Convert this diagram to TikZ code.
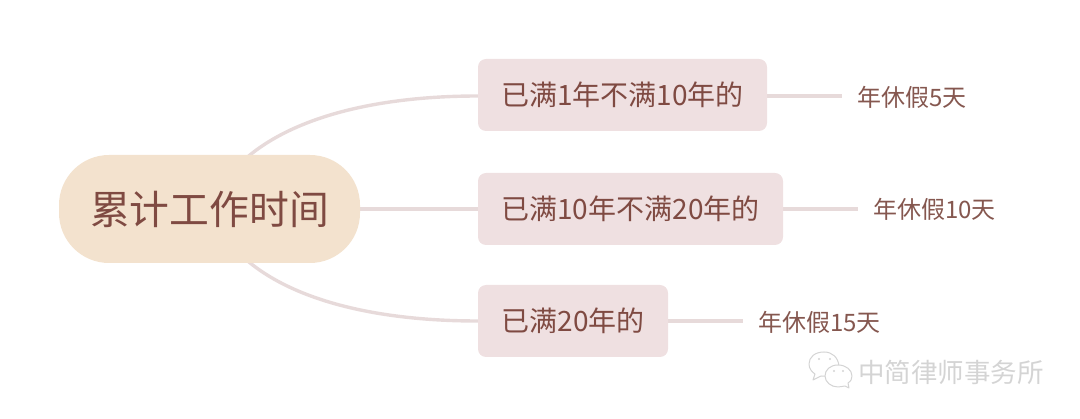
\documentclass[tikz,border=0pt]{standalone}
\usepackage{fontspec}
\newfontfamily\cjk{Noto Sans CJK SC}
\usetikzlibrary{backgrounds}
\definecolor{rootfill}{HTML}{F3E2CE}
\definecolor{boxfill}{HTML}{EFE0E1}
\definecolor{linkcol}{HTML}{E7DADA}
\definecolor{inkcol}{HTML}{7F4A42}
\definecolor{leafcol}{HTML}{85574F}
\definecolor{markcol}{HTML}{D4D4D4}
\tikzset{
  rootbox/.style={fill=rootfill,rounded corners=50pt,minimum width=301pt,minimum height=108pt,inner sep=0pt,text=inkcol,font=\cjk\fontsize{39.8}{44}\selectfont},
  branchbox/.style={fill=boxfill,rounded corners=8pt,minimum height=72pt,inner sep=0pt,text=inkcol,font=\cjk\fontsize{28}{32}\selectfont},
  leaftext/.style={inner sep=0pt,text=leafcol,font=\cjk\fontsize{24}{28}\selectfont},
  link/.style={draw=linkcol,line width=3.4pt},
  markline/.style={draw=markcol,line width=1pt,fill=white,line join=round},
}
\begin{document}
\begin{tikzpicture}[x=1pt,y=-1pt]
\useasboundingbox (0,0) rectangle (1080,419);
\node[rootbox] (root) at (209.5,209) {累计工作时间};
\node[branchbox,minimum width=289pt] (b1) at (622.5,95) {已满1年不满10年的};
\node[branchbox,minimum width=305pt] (b2) at (630.5,209) {已满10年不满20年的};
\node[branchbox,minimum width=190pt] (b3) at (573,321) {已满20年的};
\node[leaftext,anchor=west] (l1) at (857,97) {年休假5天};
\node[leaftext,anchor=west] (l2) at (873,209) {年休假10天};
\node[leaftext,anchor=west] (l3) at (758,322) {年休假15天};
\coordinate (e1) at (842,96);
\coordinate (e2) at (858,209);
\coordinate (e3) at (743,321);
\begin{scope}[on background layer]
\draw[link] (root.center) .. controls (240,130) and (350,96) .. (b1.west |- e1);
\draw[link] (root.center) -- (b2.center);
\draw[link] (root.center) .. controls (240,288) and (350,321) .. (b3.west |- e3);
\draw[link] (b1.east |- e1) -- (e1);
\draw[link] (b2.east |- e2) -- (e2);
\draw[link] (b3.east |- e3) -- (e3);
\end{scope}
% watermark
\draw[markline] (824,352) .. controls (815,352) and (809,357) .. (809,364) .. controls (809,369) and (812,372) .. (815,374) -- (813,380) -- (821,376) .. controls (827,377) and (833,376) .. (839,366) .. controls (838,357) and (832,352) .. (824,352) -- cycle;
\draw[markline] (838,365) .. controls (830,365) and (825,370) .. (825,376) .. controls (825,382) and (831,387) .. (838,387) .. controls (841,387) and (843,386) .. (845,386) -- (849,388) -- (848,383) .. controls (851,381) and (852,379) .. (852,376) .. controls (852,370) and (846,365) .. (838,365) -- cycle;
\fill[markcol] (819,359) circle (1.2pt) (830,359) circle (1.2pt) (834,371) circle (1.2pt) (843,371) circle (1.2pt);
\node[inner sep=0pt,anchor=west,text=markcol,font=\cjk\fontsize{26.5}{30}\selectfont] (mark) at (858,372) {中简律师事务所};
\end{tikzpicture}
\end{document}
